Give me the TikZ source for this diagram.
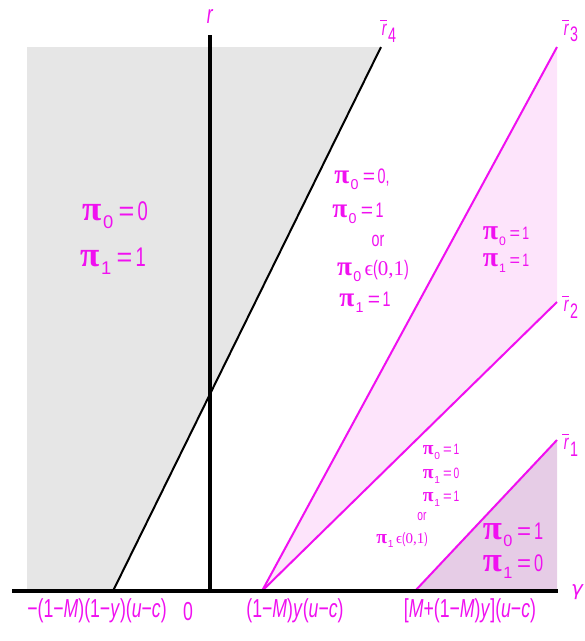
\documentclass[tikz,border=0pt]{standalone}
\usepackage{fontspec}
\setmainfont{Liberation Sans}
\newfontfamily\narrow[FakeStretch=0.68]{Liberation Sans}
\newfontfamily\wide{Liberation Sans}
\newfontfamily\pifont{Liberation Serif}
\newfontfamily\gfont{DejaVu Sans}
\definecolor{mag}{HTML}{F010F0}
\definecolor{lgray}{HTML}{E6E6E6}
\definecolor{lpink}{HTML}{FDE4FB}
\definecolor{dpink}{HTML}{E6CCE6}
\def\piscale{1.3}
\newcommand{\pis}[1]{\scalebox{\piscale}{\pifont\bfseries π}\kern0.06em\raisebox{-0.3em}{\scalebox{0.68}{\wide #1}}}
\newcommand{\eq}{\kern0.2em{\wide =}\kern0.12em}
\newcommand{\ita}[1]{\textit{#1}}
\newcommand{\rb}[1]{\ita{r}\llap{\raisebox{0.68em}{\rule{0.3em}{0.055em}}\kern0.02em}\kern0.05em\raisebox{-0.32em}{#1}}
\begin{document}
\begin{tikzpicture}[x=1pt,y=-1pt,
  lbl/.style={text=mag,inner sep=0pt},
  big/.style={lbl,font=\narrow\fontsize{27}{29}\selectfont},
  dbig/.style={lbl,font=\narrow\fontsize{24}{26}\selectfont\def\piscale{1.45}},
  mid/.style={lbl,font=\narrow\fontsize{21}{23}\selectfont},
  pnk/.style={lbl,font=\narrow\fontsize{18}{20}\selectfont\def\piscale{1.55}},
  sml/.style={lbl,font=\narrow\fontsize{15}{17}\selectfont},
  axl/.style={lbl,font=\narrow\fontsize{26}{28}\selectfont},
  rbl/.style={lbl,font=\narrow\fontsize{21}{23}\selectfont},
  magline/.style={draw=mag,line width=2pt},
  axisline/.style={draw=black,line width=4pt}]
\useasboundingbox (0,0) rectangle (585,641);
% fills
\fill[lgray] (27,47) -- (380,47) -- (113,591) -- (27,591) -- cycle;
\fill[lpink] (262,591) -- (557,47) -- (557,302) -- cycle;
\fill[dpink] (415,591) -- (557,440) -- (557,591) -- cycle;
% coordinates
\coordinate (o4) at (113,591); \coordinate (e4) at (381,47);
\coordinate (o23) at (262,591); \coordinate (e3) at (557,47); \coordinate (e2) at (557,302);
\coordinate (o1) at (415,591); \coordinate (e1) at (557,440);
\coordinate (xl) at (12,591); \coordinate (xr) at (558,591);
\coordinate (yb) at (210,593); \coordinate (yt) at (210,35);
% lines
\draw[black,line width=2pt] (o4) -- (e4);
\draw[magline] (o23) -- (e3);
\draw[magline] (o23) -- (e2);
\draw[magline] (o1) -- (e1);
\draw[axisline] (xl) -- (xr);
\draw[axisline] (yb) -- (yt);
% axis labels
\node[axl] (rl) at (210,16) {\ita{r}};
\node[lbl,font=\gfont\fontsize{20}{22}\selectfont\itshape] (gl) at (577,592) {γ};
\node[rbl] (r4) at (389,31) {\rb{4}};
\node[rbl] (r3) at (571,31) {\rb{3}};
\node[rbl] (r2) at (571,307) {\rb{2}};
\node[rbl] (r1) at (571,445) {\rb{1}};
\node[axl] (a1) at (97,611) {−(1−\ita{M})(1−\ita{y})(\ita{u}−\ita{c})};
\node[axl] (a2) at (188,612) {0};
\node[axl] (a3) at (295,611) {(1−\ita{M})\ita{y}(\ita{u}−\ita{c})};
\node[axl] (a4) at (470,611) {[\ita{M}+(1−\ita{M})\ita{y}](\ita{u}−\ita{c})};
% region texts
\node[big] (g1) at (115,215) {\pis{0}\eq 0};
\node[big] (g2) at (113,261) {\pis{1}\eq 1};
\node[mid] (m1) at (362,179) {\pis{0}\eq 0,};
\node[mid] (m2) at (358,213) {\pis{0}\eq 1};
\node[mid] (m3) at (378,241) {or};
\node[mid] (m4) at (373,271) {\pis{0}\,{\pifont ϵ}({\pifont 0,1})};
\node[mid] (m5) at (365,302) {\pis{1}\eq 1};
\node[pnk] (p1) at (506,236) {\pis{0}\eq 1};
\node[pnk] (p2) at (506,263) {\pis{1}\eq 1};
\node[sml] (s1) at (441,452) {\pis{0}\eq 1};
\node[sml] (s2) at (441,476) {\pis{1}\eq 0};
\node[sml] (s3) at (441,499) {\pis{1}\eq 1};
\node[sml] (s4) at (422,517) {or};
\node[sml] (s5) at (402,540) {\pis{1}\,{\pifont ϵ}({\pifont 0,1})};
\node[dbig] (d1) at (513,535) {\pis{0}\eq 1};
\node[dbig] (d2) at (513,567) {\pis{1}\eq 0};
\end{tikzpicture}
\end{document}
